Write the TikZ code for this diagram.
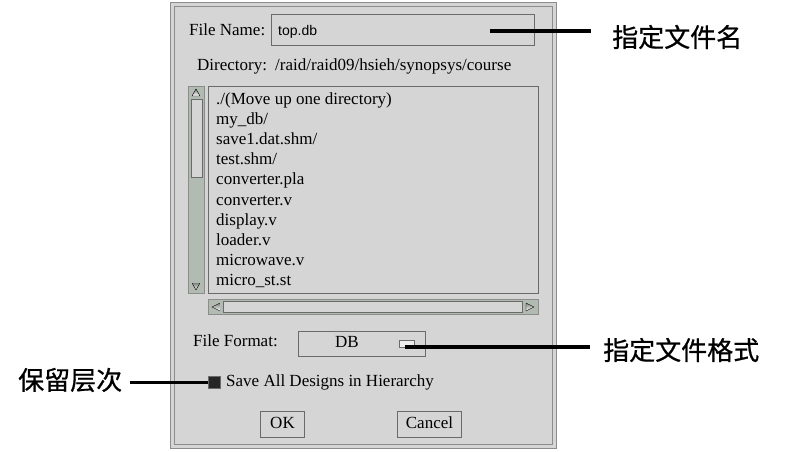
\documentclass[tikz,border=0pt]{standalone}
\usepackage{fontspec}
\setmainfont{Liberation Serif}
\setsansfont{Liberation Sans}
\newfontfamily\cjk[FakeBold=0.7]{Noto Sans CJK SC}
\definecolor{panel}{HTML}{D5D5D5}
\definecolor{frame}{HTML}{8C8C8C}
\definecolor{shade}{HTML}{6A6A6A}
\definecolor{trough}{HTML}{B2BBB2}
\definecolor{light}{HTML}{ECECEC}

\begin{document}
\begin{tikzpicture}[x=1pt, y=-1pt,
    ui/.style={font=\fontsize{17}{19}\selectfont, inner sep=0pt, text height=11.5pt, text depth=3.5pt, anchor=west},
    note/.style={font=\cjk\fontsize{26}{28}\selectfont, inner sep=0pt, anchor=west},
    pointer/.style={line width=3.5pt},
    field/.style={draw=shade, line width=1.2pt, fill=panel, inner sep=0pt, anchor=north west},
    well/.style={draw=frame, line width=1pt, fill=trough, inner sep=0pt, anchor=north west},
    knob/.style={draw=shade, line width=1pt, fill=panel, inner sep=0pt, anchor=north west}]
    \useasboundingbox (0,0) rectangle (799,451);

    % dialog window
    \draw[frame, fill=panel, line width=1pt] (170,2) rectangle (556,448);
    \draw[frame, line width=0.8pt] (174,6) rectangle (552,444);

    % file name
    \node at (189, 31) (fnlabel) [ui] {File Name:};
    \node at (271, 14) (fname) [field, minimum width=263pt, minimum height=31pt] {};
    \node at (278, 31) (fvalue) [ui, font=\sffamily\fontsize{14}{16}\selectfont] {top.db};
    \node at (197, 66) (dirlabel) [ui] {Directory:};
    \node at (275, 66) (dirpath) [ui] {/raid/raid09/hsieh/synopsys/course};

    % file list with scroll bars
    \node at (208, 86) (files) [field, minimum width=330pt, minimum height=207pt] {};
    \node at (188, 86) (vbar) [well, minimum width=16pt, minimum height=207pt] {};
    \node at (190.5, 99) (vthumb) [knob, minimum width=11pt, minimum height=78pt] {};
    \draw[shade] (192,96) -- (196,89) -- (200,96) -- cycle;
    \draw[shade] (192,283) -- (196,290) -- (200,283);
    \node at (208, 299) (hbar) [well, minimum width=330pt, minimum height=15pt] {};
    \node at (223, 301) (hthumb) [knob, minimum width=299pt, minimum height=11pt] {};
    \draw[shade] (220,303) -- (212,307) -- (220,311);
    \draw[shade] (526,303) -- (534,307) -- (526,311) -- cycle;
    \foreach \name [count=\i from 0] in {./(Move up one directory), my\_db/, save1.dat.shm/,
        test.shm/, converter.pla, converter.v, display.v, loader.v, microwave.v, micro\_st.st}
      \node at (216, 100+20.2*\i) (item\i) [ui] {\name};

    % file format
    \node at (193, 342) (fmtlabel) [ui] {File Format:};
    \node at (298, 331) (fmt) [knob, minimum width=127pt, minimum height=25pt] {};
    \node at (347, 343) (fmtvalue) [ui, anchor=center] {DB};
    \node at (399, 340) (fmtmark) [knob, fill=light, minimum width=15pt, minimum height=7pt] {};

    % hierarchy option and buttons
    \node at (208, 376) (keep) [knob, fill=black!85, minimum size=12pt] {};
    \node at (226, 382) (keeplabel) [ui] {Save All Designs in Hierarchy};
    \node at (260, 411) (ok) [knob, minimum width=44pt, minimum height=26pt] {};
    \node at (ok.center) (oktext) [ui, anchor=center] {OK};
    \node at (397, 411) (cancel) [knob, minimum width=64pt, minimum height=26pt] {};
    \node at (cancel.center) (canceltext) [ui, anchor=center] {Cancel};

    % notes
    \node at (612, 37) (fnnote) [note] {指定文件名};
    \node at (603, 350) (fmtnote) [note] {指定文件格式};
    \node at (18, 380) (keepnote) [note] {保留层次};
    \coordinate (fnpt) at (490, 31);
    \coordinate (fmtpt) at (405, 347);
    \draw[pointer] (fnpt) -- ([xshift=-21pt]fnnote.west |- fnpt);
    \draw[pointer] (fmtpt) -- ([xshift=-13pt]fmtnote.west |- fmtpt);
    \draw[pointer] ([xshift=8pt]keepnote.east |- keep.west) -- (keep.west);
\end{tikzpicture}
\end{document}
